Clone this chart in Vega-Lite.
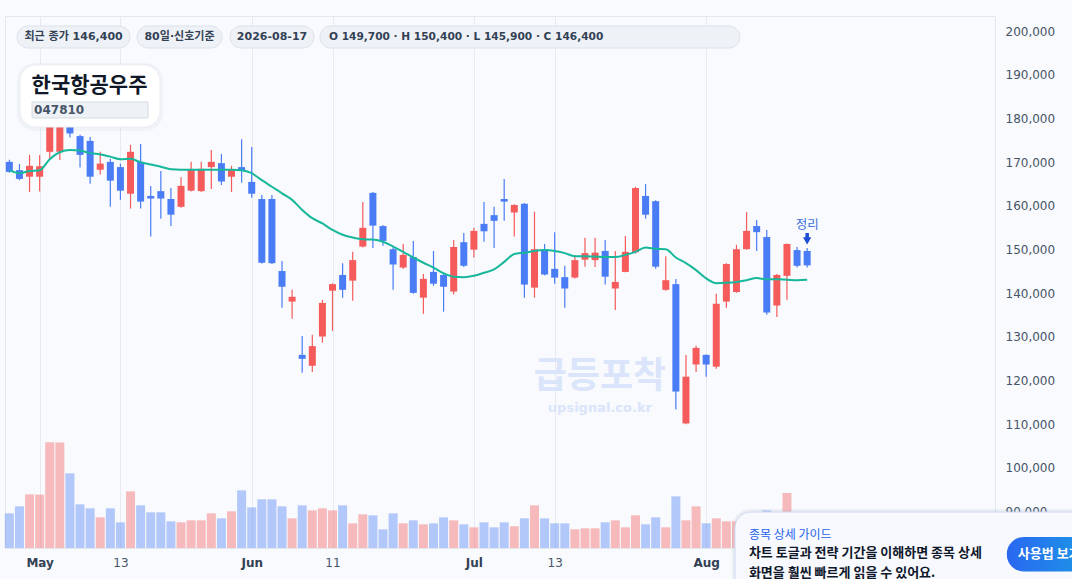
{
  "$schema": "https://vega.github.io/schema/vega-lite/v6.json",
  "description": "한국항공우주 (047810) 80일 캔들 차트, 이동평균선과 거래량",
  "width": 990,
  "height": 532,
  "autosize": "none",
  "padding": {"left": 5, "top": 16, "right": 77, "bottom": 31},
  "background": "#f8fafd",
  "config": {
    "view": {"fill": "#f8fafd", "stroke": "#e3e8ef"},
    "font": "DejaVu Sans, Noto Sans CJK KR",
    "axis": {"gridColor": "#e7eaf0", "domain": false, "ticks": false, "tickSize": 0, "labelFont": "DejaVu Sans", "labelFontSize": 12, "title": null}
  },
  "data": {
    "values": [
      {"i": 0, "date": "2026-04-28", "open": 170100, "high": 170600, "low": 167600, "close": 167800, "ma": 168200, "volume": 416000},
      {"i": 1, "date": "2026-04-29", "open": 168200, "high": 169600, "low": 165900, "close": 166200, "ma": 167500, "volume": 500000},
      {"i": 2, "date": "2026-04-30", "open": 166700, "high": 171700, "low": 163200, "close": 169200, "ma": 168000, "volume": 644000},
      {"i": 3, "date": "2026-05-01", "open": 166700, "high": 171700, "low": 163300, "close": 169100, "ma": 168200, "volume": 641000},
      {"i": 4, "date": "2026-05-04", "open": 172400, "high": 180800, "low": 170700, "close": 178900, "ma": 170700, "volume": 1268000},
      {"i": 5, "date": "2026-05-05", "open": 172400, "high": 181500, "low": 170500, "close": 179600, "ma": 172300, "volume": 1266000},
      {"i": 6, "date": "2026-05-06", "open": 178500, "high": 179300, "low": 175700, "close": 176600, "ma": 172800, "volume": 896000},
      {"i": 7, "date": "2026-05-07", "open": 176000, "high": 176300, "low": 168800, "close": 171700, "ma": 172700, "volume": 524000},
      {"i": 8, "date": "2026-05-08", "open": 174900, "high": 175800, "low": 165100, "close": 166700, "ma": 172100, "volume": 476000},
      {"i": 9, "date": "2026-05-11", "open": 168300, "high": 172400, "low": 167200, "close": 169700, "ma": 171800, "volume": 368000},
      {"i": 10, "date": "2026-05-12", "open": 170100, "high": 170800, "low": 159800, "close": 165800, "ma": 171300, "volume": 476000},
      {"i": 11, "date": "2026-05-13", "open": 168900, "high": 169700, "low": 161400, "close": 163500, "ma": 170700, "volume": 308000},
      {"i": 12, "date": "2026-05-14", "open": 162800, "high": 174000, "low": 159400, "close": 172400, "ma": 170800, "volume": 680000},
      {"i": 13, "date": "2026-05-15", "open": 170100, "high": 174200, "low": 159400, "close": 161000, "ma": 170000, "volume": 512000},
      {"i": 14, "date": "2026-05-18", "open": 162300, "high": 164600, "low": 153000, "close": 161700, "ma": 169500, "volume": 428000},
      {"i": 15, "date": "2026-05-19", "open": 163400, "high": 168000, "low": 157100, "close": 161700, "ma": 169000, "volume": 428000},
      {"i": 16, "date": "2026-05-20", "open": 161600, "high": 164100, "low": 155400, "close": 158000, "ma": 168400, "volume": 320000},
      {"i": 17, "date": "2026-05-21", "open": 159800, "high": 166600, "low": 159600, "close": 164600, "ma": 168300, "volume": 308000},
      {"i": 18, "date": "2026-05-22", "open": 163500, "high": 170100, "low": 163300, "close": 168400, "ma": 168300, "volume": 332000},
      {"i": 19, "date": "2026-05-25", "open": 163400, "high": 170100, "low": 163200, "close": 168500, "ma": 168300, "volume": 332000},
      {"i": 20, "date": "2026-05-26", "open": 168900, "high": 172800, "low": 163900, "close": 170100, "ma": 168300, "volume": 416000},
      {"i": 21, "date": "2026-05-27", "open": 169800, "high": 171900, "low": 164800, "close": 165600, "ma": 168300, "volume": 356000},
      {"i": 22, "date": "2026-05-28", "open": 166700, "high": 169200, "low": 163200, "close": 168200, "ma": 168300, "volume": 440000},
      {"i": 23, "date": "2026-05-29", "open": 168900, "high": 175300, "low": 165300, "close": 168200, "ma": 168200, "volume": 692000},
      {"i": 24, "date": "2026-06-01", "open": 165500, "high": 173500, "low": 161900, "close": 162800, "ma": 167500, "volume": 488000},
      {"i": 25, "date": "2026-06-02", "open": 161600, "high": 162500, "low": 146800, "close": 147000, "ma": 165900, "volume": 584000},
      {"i": 26, "date": "2026-06-03", "open": 161600, "high": 162500, "low": 146700, "close": 146900, "ma": 164400, "volume": 584000},
      {"i": 27, "date": "2026-06-04", "open": 145100, "high": 147400, "low": 136700, "close": 141500, "ma": 162900, "volume": 500000},
      {"i": 28, "date": "2026-06-05", "open": 138100, "high": 140800, "low": 134200, "close": 139200, "ma": 161400, "volume": 356000},
      {"i": 29, "date": "2026-06-08", "open": 125900, "high": 130200, "low": 121800, "close": 125000, "ma": 159100, "volume": 512000},
      {"i": 30, "date": "2026-06-09", "open": 123400, "high": 130500, "low": 122000, "close": 127900, "ma": 157200, "volume": 452000},
      {"i": 31, "date": "2026-06-10", "open": 130100, "high": 138500, "low": 128700, "close": 137800, "ma": 156000, "volume": 476000},
      {"i": 32, "date": "2026-06-11", "open": 140600, "high": 142300, "low": 131400, "close": 142100, "ma": 154500, "volume": 452000},
      {"i": 33, "date": "2026-06-12", "open": 144200, "high": 146900, "low": 139000, "close": 140800, "ma": 153400, "volume": 512000},
      {"i": 34, "date": "2026-06-15", "open": 142900, "high": 149500, "low": 138300, "close": 147600, "ma": 152800, "volume": 296000},
      {"i": 35, "date": "2026-06-16", "open": 150700, "high": 160900, "low": 150500, "close": 155000, "ma": 152400, "volume": 404000},
      {"i": 36, "date": "2026-06-17", "open": 163000, "high": 163200, "low": 150400, "close": 155500, "ma": 152300, "volume": 392000},
      {"i": 37, "date": "2026-06-18", "open": 155400, "high": 155600, "low": 150900, "close": 152000, "ma": 151800, "volume": 224000},
      {"i": 38, "date": "2026-06-19", "open": 150100, "high": 150500, "low": 140800, "close": 146600, "ma": 150700, "volume": 416000},
      {"i": 39, "date": "2026-06-22", "open": 145900, "high": 151300, "low": 145600, "close": 148800, "ma": 149500, "volume": 296000},
      {"i": 40, "date": "2026-06-23", "open": 148300, "high": 152000, "low": 139900, "close": 140100, "ma": 148200, "volume": 332000},
      {"i": 41, "date": "2026-06-24", "open": 139000, "high": 144400, "low": 135300, "close": 143300, "ma": 147000, "volume": 284000},
      {"i": 42, "date": "2026-06-25", "open": 144900, "high": 149700, "low": 141700, "close": 142200, "ma": 145900, "volume": 296000},
      {"i": 43, "date": "2026-06-26", "open": 144200, "high": 144400, "low": 135800, "close": 141500, "ma": 144600, "volume": 368000},
      {"i": 44, "date": "2026-06-29", "open": 140400, "high": 152200, "low": 139700, "close": 150600, "ma": 143800, "volume": 332000},
      {"i": 45, "date": "2026-06-30", "open": 151700, "high": 153800, "low": 146000, "close": 146300, "ma": 143700, "volume": 284000},
      {"i": 46, "date": "2026-07-01", "open": 150000, "high": 155000, "low": 148200, "close": 154300, "ma": 144000, "volume": 248000},
      {"i": 47, "date": "2026-07-02", "open": 155900, "high": 160900, "low": 151800, "close": 154200, "ma": 144700, "volume": 308000},
      {"i": 48, "date": "2026-07-03", "open": 157900, "high": 159800, "low": 150400, "close": 156600, "ma": 145500, "volume": 248000},
      {"i": 49, "date": "2026-07-06", "open": 161600, "high": 166200, "low": 156600, "close": 161000, "ma": 147200, "volume": 308000},
      {"i": 50, "date": "2026-07-07", "open": 158500, "high": 160400, "low": 153000, "close": 160200, "ma": 149000, "volume": 260000},
      {"i": 51, "date": "2026-07-08", "open": 160500, "high": 160700, "low": 139000, "close": 142000, "ma": 149300, "volume": 356000},
      {"i": 52, "date": "2026-07-09", "open": 141300, "high": 158700, "low": 139000, "close": 150100, "ma": 149700, "volume": 512000},
      {"i": 53, "date": "2026-07-10", "open": 150100, "high": 151300, "low": 144100, "close": 144300, "ma": 149900, "volume": 356000},
      {"i": 54, "date": "2026-07-13", "open": 145600, "high": 154000, "low": 142200, "close": 143600, "ma": 149700, "volume": 296000},
      {"i": 55, "date": "2026-07-14", "open": 143700, "high": 146300, "low": 136700, "close": 141100, "ma": 149200, "volume": 296000},
      {"i": 56, "date": "2026-07-15", "open": 143600, "high": 148800, "low": 143400, "close": 147600, "ma": 148500, "volume": 224000},
      {"i": 57, "date": "2026-07-16", "open": 147700, "high": 152700, "low": 146100, "close": 149200, "ma": 148500, "volume": 236000},
      {"i": 58, "date": "2026-07-17", "open": 147600, "high": 152700, "low": 146000, "close": 149300, "ma": 148400, "volume": 236000},
      {"i": 59, "date": "2026-07-20", "open": 149700, "high": 152200, "low": 142000, "close": 143800, "ma": 148300, "volume": 308000},
      {"i": 60, "date": "2026-07-21", "open": 141100, "high": 149700, "low": 136200, "close": 142600, "ma": 148300, "volume": 332000},
      {"i": 61, "date": "2026-07-22", "open": 144900, "high": 153100, "low": 144800, "close": 149500, "ma": 148800, "volume": 248000},
      {"i": 62, "date": "2026-07-23", "open": 149400, "high": 164400, "low": 149100, "close": 164100, "ma": 149500, "volume": 392000},
      {"i": 63, "date": "2026-07-24", "open": 162300, "high": 165000, "low": 157100, "close": 158000, "ma": 150500, "volume": 284000},
      {"i": 64, "date": "2026-07-27", "open": 161100, "high": 161300, "low": 145600, "close": 146100, "ma": 150200, "volume": 368000},
      {"i": 65, "date": "2026-07-28", "open": 140800, "high": 148500, "low": 140600, "close": 143000, "ma": 150100, "volume": 248000},
      {"i": 66, "date": "2026-07-29", "open": 142100, "high": 143300, "low": 113400, "close": 117500, "ma": 148200, "volume": 620000},
      {"i": 67, "date": "2026-07-30", "open": 110200, "high": 125900, "low": 110000, "close": 120900, "ma": 146900, "volume": 332000},
      {"i": 68, "date": "2026-07-31", "open": 123700, "high": 128000, "low": 122000, "close": 127500, "ma": 145300, "volume": 500000},
      {"i": 69, "date": "2026-08-03", "open": 125900, "high": 126000, "low": 120900, "close": 123700, "ma": 143400, "volume": 296000},
      {"i": 70, "date": "2026-08-04", "open": 123200, "high": 139900, "low": 122700, "close": 137600, "ma": 142300, "volume": 356000},
      {"i": 71, "date": "2026-08-05", "open": 138100, "high": 146900, "low": 136700, "close": 146700, "ma": 142400, "volume": 320000},
      {"i": 72, "date": "2026-08-06", "open": 140300, "high": 151100, "low": 140100, "close": 150100, "ma": 142600, "volume": 320000},
      {"i": 73, "date": "2026-08-07", "open": 150100, "high": 158600, "low": 150000, "close": 154300, "ma": 143000, "volume": 300000},
      {"i": 74, "date": "2026-08-10", "open": 155400, "high": 156800, "low": 149700, "close": 154000, "ma": 143500, "volume": 280000},
      {"i": 75, "date": "2026-08-11", "open": 152900, "high": 154500, "low": 135100, "close": 135600, "ma": 143200, "volume": 452000},
      {"i": 76, "date": "2026-08-12", "open": 137200, "high": 144400, "low": 134600, "close": 144200, "ma": 143200, "volume": 320000},
      {"i": 77, "date": "2026-08-13", "open": 144000, "high": 151400, "low": 138500, "close": 151300, "ma": 143100, "volume": 660000},
      {"i": 78, "date": "2026-08-14", "open": 149900, "high": 150600, "low": 145900, "close": 146300, "ma": 143000, "volume": 300000},
      {"i": 79, "date": "2026-08-17", "open": 149700, "high": 150400, "low": 145900, "close": 146400, "ma": 143100, "volume": 260000}
    ]
  },
  "layer": [
    {
      "mark": {"type": "bar", "size": 9, "opacity": 0.4},
      "encoding": {
        "x": {
          "field": "i",
          "type": "quantitative",
          "scale": {"domain": [-0.43, 97.6], "nice": false, "zero": false, "padding": 0},
          "axis": {
            "values": [3, 11, 24, 32, 46, 54, 69],
            "labelExpr": "datum.value == 3 ? 'May' : datum.value == 24 ? 'Jun' : datum.value == 46 ? 'Jul' : datum.value == 69 ? 'Aug' : datum.value == 32 ? '11' : '13'",
            "labelFontWeight": {"condition": {"test": "datum.value == 3 || datum.value == 24 || datum.value == 46 || datum.value == 69", "value": "bold"}, "value": "normal"},
            "labelColor": {"condition": {"test": "datum.value == 3 || datum.value == 24 || datum.value == 46 || datum.value == 69", "value": "#334155"}, "value": "#475569"},
            "labelPadding": 9,
            "labelFlush": false
          }
        },
        "y": {"field": "volume", "type": "quantitative", "scale": {"domain": [0, 6384000], "nice": false, "padding": 0}, "axis": null},
        "color": {"condition": {"test": "datum.close >= datum.open", "value": "#f65b5b"}, "value": "#4a7cf6"}
      }
    },
    {
      "encoding": {
        "y": {
          "type": "quantitative",
          "scale": {"domain": [81675, 203503], "nice": false, "zero": false, "padding": 0},
          "axis": {"orient": "right", "values": [90000, 100000, 110000, 120000, 130000, 140000, 150000, 160000, 170000, 180000, 190000, 200000], "format": ",.0f", "labelPadding": 10, "labelColor": "#475467"}
        }
      },
      "layer": [
        {
          "data": {"values": [{"t": "급등포착", "u": "upsignal.co.kr"}]},
          "layer": [
            {"mark": {"type": "text", "font": "Noto Sans CJK KR", "fontSize": 36, "fontWeight": "bold", "color": "#dae4fa", "baseline": "middle"}, "encoding": {"x": {"datum": 58.48}, "y": {"datum": 120834}, "text": {"field": "t"}}},
            {"mark": {"type": "text", "font": "DejaVu Sans", "fontSize": 13, "fontWeight": "bold", "color": "#dae4fa", "baseline": "middle"}, "encoding": {"x": {"datum": 58.48}, "y": {"datum": 113803}, "text": {"field": "u"}}}
          ]
        },
        {
          "mark": {"type": "rule", "strokeWidth": 1.2},
          "encoding": {
            "x": {"field": "i", "type": "quantitative"},
            "y": {"field": "low"},
            "y2": {"field": "high"},
            "color": {"condition": {"test": "datum.close >= datum.open", "value": "#f65b5b"}, "value": "#4a7cf6"}
          }
        },
        {
          "mark": {"type": "bar", "size": 7},
          "encoding": {
            "x": {"field": "i", "type": "quantitative"},
            "y": {"field": "open"},
            "y2": {"field": "close"},
            "color": {"condition": {"test": "datum.close >= datum.open", "value": "#f65b5b"}, "value": "#4a7cf6"}
          }
        },
        {
          "mark": {"type": "line", "color": "#17b79b", "strokeWidth": 2, "interpolate": "monotone"},
          "encoding": {"x": {"field": "i", "type": "quantitative"}, "y": {"field": "ma"}}
        },
        {
          "data": {"values": [{"t": "정리"}]},
          "layer": [
            {"mark": {"type": "text", "font": "Noto Sans CJK KR", "fontSize": 12.5, "color": "#3a6fd9", "baseline": "middle"}, "encoding": {"x": {"datum": 79}, "y": {"datum": 155642}, "text": {"field": "t"}}},
            {"mark": {"type": "rule", "strokeWidth": 3.5, "color": "#1d4ed8"}, "encoding": {"x": {"datum": 79}, "y": {"datum": 153810}, "y2": {"datum": 152436}}},
            {"mark": {"type": "point", "shape": "triangle-down", "filled": true, "size": 70, "color": "#1d4ed8", "opacity": 1}, "encoding": {"x": {"datum": 79}, "y": {"datum": 152000}}}
          ]
        },
        {
          "data": {"values": [{"a": "최근 종가 146,400", "b": "80일·신호기준", "c": "2026-08-17", "d": "O 149,700 · H 150,400 · L 145,900 · C 146,400"}]},
          "layer": [
            {"mark": {"type": "rect", "fill": "#eef2f7", "stroke": "#dce2ea", "cornerRadius": 11}, "encoding": {"x": {"datum": 0.76}, "x2": {"datum": 11.95}, "y": {"datum": 201213}, "y2": {"datum": 196175}}},
            {"mark": {"type": "rect", "fill": "#eef2f7", "stroke": "#dce2ea", "cornerRadius": 11}, "encoding": {"x": {"datum": 12.64}, "x2": {"datum": 21.06}, "y": {"datum": 201213}, "y2": {"datum": 196175}}},
            {"mark": {"type": "rect", "fill": "#eef2f7", "stroke": "#dce2ea", "cornerRadius": 11}, "encoding": {"x": {"datum": 21.85}, "x2": {"datum": 30.17}, "y": {"datum": 201213}, "y2": {"datum": 196175}}},
            {"mark": {"type": "rect", "fill": "#eef2f7", "stroke": "#dce2ea", "cornerRadius": 11}, "encoding": {"x": {"datum": 30.76}, "x2": {"datum": 72.34}, "y": {"datum": 201213}, "y2": {"datum": 196175}}},
            {"mark": {"type": "text", "fontSize": 11, "fontWeight": "bold", "color": "#334155", "baseline": "middle"}, "encoding": {"x": {"datum": 6.36}, "y": {"datum": 198694}, "text": {"field": "a"}}},
            {"mark": {"type": "text", "fontSize": 11, "fontWeight": "bold", "color": "#334155", "baseline": "middle"}, "encoding": {"x": {"datum": 16.85}, "y": {"datum": 198694}, "text": {"field": "b"}}},
            {"mark": {"type": "text", "fontSize": 11, "fontWeight": "bold", "color": "#334155", "baseline": "middle"}, "encoding": {"x": {"datum": 26.01}, "y": {"datum": 198694}, "text": {"field": "c"}}},
            {"mark": {"type": "text", "fontSize": 10.6, "fontWeight": "bold", "color": "#334155", "baseline": "middle", "align": "left"}, "encoding": {"x": {"datum": 31.65}, "y": {"datum": 198694}, "text": {"field": "d"}}}
          ]
        },
        {
          "data": {"values": [{"name": "한국항공우주", "code": "047810"}]},
          "layer": [
            {"mark": {"type": "rect", "fill": "#64748b", "opacity": 0.06, "cornerRadius": 18}, "encoding": {"x": {"datum": 0.76}, "x2": {"datum": 15.22}, "y": {"datum": 192740}, "y2": {"datum": 177168}}},
            {"mark": {"type": "rect", "fill": "#ffffff", "stroke": "#eceff4", "cornerRadius": 16}, "encoding": {"x": {"datum": 1.06}, "x2": {"datum": 14.92}, "y": {"datum": 192282}, "y2": {"datum": 178084}}},
            {"mark": {"type": "text", "font": "Noto Sans CJK KR", "fontSize": 21, "fontWeight": "bold", "color": "#111827", "baseline": "middle", "align": "left"}, "encoding": {"x": {"datum": 2.2}, "y": {"datum": 187473}, "text": {"field": "name"}}},
            {"mark": {"type": "rect", "fill": "#eef2f7", "stroke": "#d5dbe3"}, "encoding": {"x": {"datum": 2.25}, "x2": {"datum": 13.73}, "y": {"datum": 183809}, "y2": {"datum": 180145}}},
            {"mark": {"type": "text", "fontSize": 12, "fontWeight": "bold", "color": "#475569", "baseline": "middle", "align": "left"}, "encoding": {"x": {"datum": 2.45}, "y": {"datum": 181977}, "text": {"field": "code"}}}
          ]
        },
        {
          "data": {"values": [{"h": "종목 상세 가이드", "l1": "차트 토글과 전략 기간을 이해하면 종목 상세", "l2": "화면을 훨씬 빠르게 읽을 수 있어요.", "btn": "사용법 보기"}]},
          "layer": [
            {"mark": {"type": "rect", "fill": "#94a3b8", "opacity": 0.12, "cornerRadius": 19}, "encoding": {"x": {"datum": 71.55}, "x2": {"datum": 107.8}, "y": {"datum": 90606}, "y2": {"datum": 68622}}},
            {"mark": {"type": "rect", "fill": "#f7f9fe", "stroke": "#cdd8f2", "cornerRadius": 16}, "encoding": {"x": {"datum": 71.85}, "x2": {"datum": 107.49}, "y": {"datum": 89919}, "y2": {"datum": 68622}}},
            {"mark": {"type": "text", "font": "Noto Sans CJK KR", "fontSize": 12, "color": "#2563eb", "baseline": "middle", "align": "left"}, "encoding": {"x": {"datum": 73.23}, "y": {"datum": 84652}, "text": {"field": "h"}}},
            {"mark": {"type": "text", "font": "Noto Sans CJK KR", "fontSize": 13, "fontWeight": "bold", "color": "#0f172a", "baseline": "middle", "align": "left"}, "encoding": {"x": {"datum": 73.23}, "y": {"datum": 80530}, "text": {"field": "l1"}}},
            {"mark": {"type": "text", "font": "Noto Sans CJK KR", "fontSize": 13, "fontWeight": "bold", "color": "#0f172a", "baseline": "middle", "align": "left"}, "encoding": {"x": {"datum": 73.23}, "y": {"datum": 75950}, "text": {"field": "l2"}}},
            {
              "mark": {
                "type": "rect",
                "cornerRadius": 17,
                "color": {"gradient": "linear", "x1": 0, "y1": 0, "x2": 1, "y2": 0, "stops": [{"offset": 0, "color": "#2a68f0"}, {"offset": 1, "color": "#1a9ae6"}]}
              },
              "encoding": {"x": {"datum": 98.77}, "x2": {"datum": 107.49}, "y": {"datum": 84194}, "y2": {"datum": 76293}}
            },
            {"mark": {"type": "text", "font": "Noto Sans CJK KR", "fontSize": 13, "fontWeight": "bold", "color": "#ffffff", "baseline": "middle", "align": "left"}, "encoding": {"x": {"datum": 99.86}, "y": {"datum": 80301}, "text": {"field": "btn"}}}
          ]
        }
      ]
    }
  ],
  "resolve": {"scale": {"y": "independent"}}
}
